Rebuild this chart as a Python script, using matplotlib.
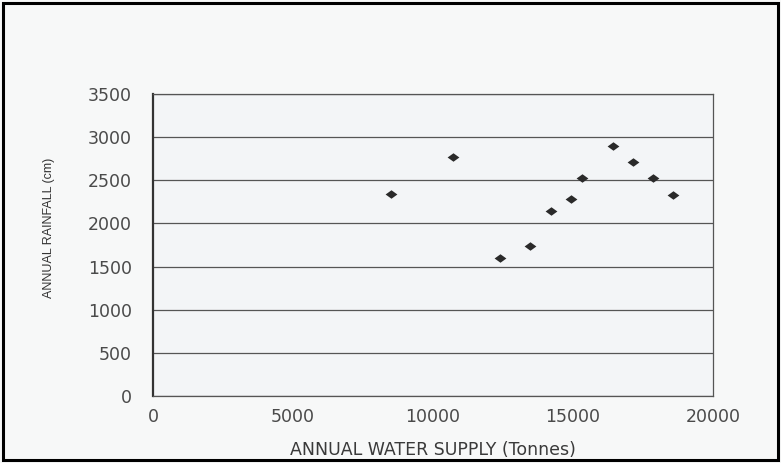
import matplotlib
matplotlib.use("Agg")
import matplotlib.pyplot as plt
from matplotlib.patches import Rectangle

# Data
water_supply = [8500, 10700, 12400, 13450, 14200, 14930, 15320, 16430, 17130, 17850, 18560]
rainfall = [2340, 2770, 1600, 1740, 2146, 2281, 2525, 2893, 2707, 2525, 2331]
x_ticks = [0, 5000, 10000, 15000, 20000]
y_ticks = [0, 500, 1000, 1500, 2000, 2500, 3000, 3500]

fig = plt.figure(figsize=(7.81, 4.63), dpi=100)
fig.patch.set_facecolor("#f7f8f8")
ax = fig.add_axes([153/781, 1-396/463, (713-153)/781, (396-94)/463])
ax.set_facecolor("#f3f5f7")

diamond = [(-1, 0), (0, 0.72), (1, 0), (0, -0.72), (-1, 0)]
ax.scatter(water_supply, rainfall, marker=diamond, s=72, color="#2a2a2a", zorder=3, linewidths=0)

ax.set_xlim(0, 20000)
ax.set_ylim(0, 3500)
ax.set_xticks(x_ticks)
ax.set_yticks(y_ticks)
ax.set_xticklabels([str(v) for v in x_ticks])
ax.set_yticklabels([str(v) for v in y_ticks])
ax.grid(axis="y", color="#555555", linewidth=0.9)
ax.set_axisbelow(True)
ax.tick_params(length=0, labelsize=12.5, labelcolor="#4a4a4a")
ax.tick_params(axis="x", pad=9)
ax.tick_params(axis="y", pad=15)
for lab in ax.get_xticklabels() + ax.get_yticklabels():
    lab.set_family(["DejaVu Sans"])

for side in ["top", "right", "bottom"]:
    ax.spines[side].set_color("#555555")
    ax.spines[side].set_linewidth(0.9)
ax.spines["left"].set_color("#333333")
ax.spines["left"].set_linewidth(1.6)

ax.set_xlabel("ANNUAL WATER SUPPLY (Tonnes)", fontsize=12.5, color="#3a3a3a",
              family=["DejaVu Sans"])
ax.xaxis.set_label_coords(0.5, -0.15)
ax.set_ylabel("ANNUAL RAINFALL (cm)", fontsize=9, color="#333333",
              family=["Liberation Sans Narrow", "Liberation Sans", "DejaVu Sans"])
ax.yaxis.set_label_coords(-0.175, 0.556)

# Outer black border of the image
fig.patches.append(Rectangle((0.004, 0.006), 0.992, 0.988, transform=fig.transFigure,
                             fill=False, edgecolor="black", linewidth=2.2))

fig.savefig("out.png", dpi=100, facecolor=fig.get_facecolor())
